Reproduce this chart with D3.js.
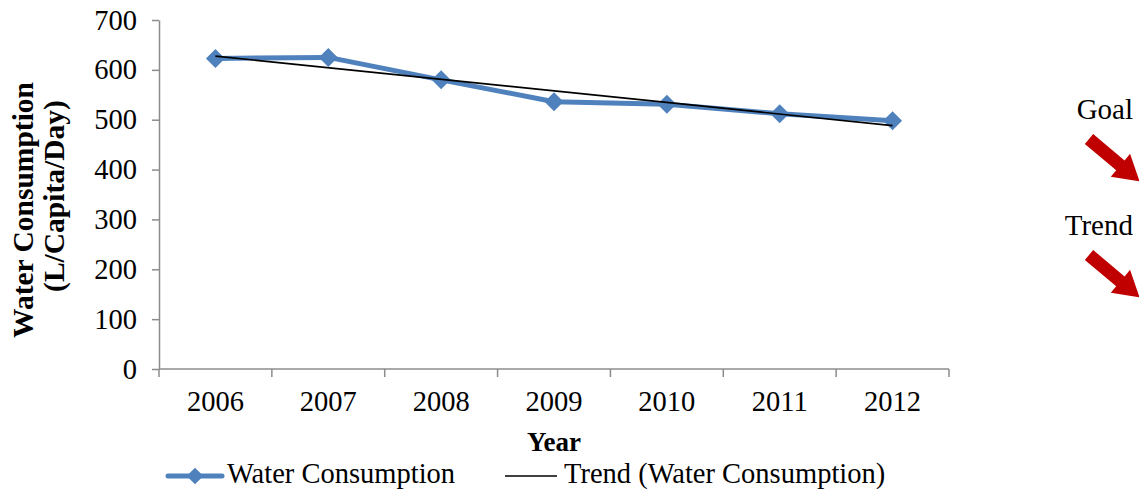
<!DOCTYPE html>
<html>
<head>
<meta charset="utf-8">
<script src="https://cdn.jsdelivr.net/npm/d3@7"></script>
<style>
  html, body { margin: 0; padding: 0; background: #fff; }
  svg { display: block; }
  text { font-family: "Liberation Serif", "DejaVu Serif", serif; fill: #000; }
</style>
</head>
<body>
<div id="chart"></div>
<script>
// Water consumption per year
const years = ['2006', '2007', '2008', '2009', '2010', '2011', '2012'];
const consumption = [623, 625, 580, 536, 531, 512, 498];
const yTicks = [0, 100, 200, 300, 400, 500, 600, 700];
const seriesName = 'Water Consumption';
const trendName = 'Trend (Water Consumption)';
const notes = ['Goal', 'Trend'];

const width = 1139;
const height = 494;
const blue = '#4f81bd';
const axisColor = '#8c8c8c';

const svg = d3.select('#chart')
    .append('svg')
    .attr('width', width)
    .attr('height', height);

// Scales
const x = d3.scaleBand()
    .domain(years)
    .range([159, 949])
    .padding(0);

const y = d3.scaleLinear()
    .domain([0, 700])
    .range([369, 20]);

const cx = d => x(d) + x.bandwidth() / 2;

// Y axis
const yAxis = svg.append('g')
    .attr('transform', 'translate(159,0)')
    .call(d3.axisLeft(y).tickValues(yTicks).tickSize(7).tickSizeOuter(0));

yAxis.select('.domain').attr('stroke', axisColor).attr('stroke-width', 1.5);
yAxis.selectAll('.tick line').attr('stroke', axisColor).attr('stroke-width', 1.5);
yAxis.selectAll('.tick text')
    .attr('x', -22)
    .attr('dy', 0)
    .attr('y', 9)
    .attr('font-size', '28.5px')
    .attr('font-family', '"Liberation Serif", serif')
    .attr('fill', '#000');

// X axis (labels centred, ticks between categories)
const xAxis = svg.append('g')
    .attr('transform', `translate(0,${y(0)})`);

xAxis.append('line')
    .attr('x1', x.range()[0])
    .attr('x2', x.range()[1])
    .attr('stroke', axisColor)
    .attr('stroke-width', 1.5);

const bounds = years.map(d => x(d)).concat([x.range()[1]]);
xAxis.selectAll('.xtick')
    .data(bounds)
    .enter()
    .append('line')
    .attr('class', 'xtick')
    .attr('x1', d => d)
    .attr('x2', d => d)
    .attr('y1', 0)
    .attr('y2', 8)
    .attr('stroke', axisColor)
    .attr('stroke-width', 1.5);

xAxis.selectAll('.xlabel')
    .data(years)
    .enter()
    .append('text')
    .attr('class', 'xlabel')
    .attr('x', d => cx(d))
    .attr('y', 42)
    .attr('text-anchor', 'middle')
    .attr('font-size', '28.5px')
    .text(d => d);

// Axis titles
svg.append('text')
    .attr('x', 554)
    .attr('y', 451)
    .attr('text-anchor', 'middle')
    .attr('font-size', '27px')
    .attr('font-weight', 'bold')
    .text('Year');

const yTitle = ['Water Consumption', '(L/Capita/Day)'];
svg.selectAll('.ytitle')
    .data(yTitle)
    .enter()
    .append('text')
    .attr('class', 'ytitle')
    .attr('transform', (d, i) => `translate(${33 + i * 31},${i ? 196 : 210}) rotate(-90)`)
    .attr('text-anchor', 'middle')
    .attr('font-size', '29.5px')
    .attr('font-weight', 'bold')
    .text(d => d);

// Trend line (least squares on the series)
const n = consumption.length;
const xs = d3.range(n);
const mx = d3.mean(xs);
const my = d3.mean(consumption);
const slope = d3.sum(xs, i => (i - mx) * (consumption[i] - my)) / d3.sum(xs, i => (i - mx) * (i - mx));
const intercept = my - slope * mx;

// Series line
const line = d3.line()
    .x(d => cx(d.year))
    .y(d => y(d.value));

const points = years.map((yr, i) => ({ year: yr, value: consumption[i] }));

svg.append('path')
    .datum(points)
    .attr('d', line)
    .attr('fill', 'none')
    .attr('stroke', blue)
    .attr('stroke-width', 5)
    .attr('stroke-linejoin', 'round');

const diamond = d3.symbol().type(d3.symbolSquare).size(180);

svg.selectAll('.marker')
    .data(points)
    .enter()
    .append('path')
    .attr('class', 'marker')
    .attr('d', diamond)
    .attr('transform', d => `translate(${cx(d.year)},${y(d.value)}) rotate(45)`)
    .attr('fill', blue);

svg.append('line')
    .attr('x1', cx(years[0]))
    .attr('y1', y(intercept))
    .attr('x2', cx(years[n - 1]))
    .attr('y2', y(intercept + slope * (n - 1)))
    .attr('stroke', '#000')
    .attr('stroke-width', 1.6);

// Legend
const legend = svg.append('g').attr('transform', 'translate(0,476)');

legend.append('line')
    .attr('x1', 168).attr('x2', 222)
    .attr('stroke', blue)
    .attr('stroke-width', 5)
    .attr('stroke-linecap', 'round');

legend.append('path')
    .attr('d', d3.symbol().type(d3.symbolSquare).size(140))
    .attr('transform', 'translate(195,0) rotate(45)')
    .attr('fill', blue);

legend.append('text')
    .attr('x', 227).attr('y', 7)
    .attr('font-size', '28.5px')
    .text(seriesName);

legend.append('line')
    .attr('x1', 505).attr('x2', 557)
    .attr('stroke', '#000')
    .attr('stroke-width', 1.6);

legend.append('text')
    .attr('x', 564).attr('y', 7)
    .attr('font-size', '28.5px')
    .text(trendName);

// Side notes with red arrows
const arrowShape = [[0, -6.5], [41, -6.5], [41, -15], [66, 0], [41, 15], [41, 6.5], [0, 6.5]];

notes.forEach((label, i) => {
    const oy = i * 116;
    svg.append('text')
        .attr('x', 1133)
        .attr('y', 119 + oy)
        .attr('text-anchor', 'end')
        .attr('font-size', '29px')
        .attr('font-family', '"Liberation Serif", "Times New Roman", serif')
        .attr('fill', '#222')
        .text(label);

    svg.append('polygon')
        .attr('points', arrowShape.map(p => p.join(',')).join(' '))
        .attr('transform', `translate(${1089},${139 + oy}) rotate(40)`)
        .attr('fill', '#c00000');
});
</script>
</body>
</html>
